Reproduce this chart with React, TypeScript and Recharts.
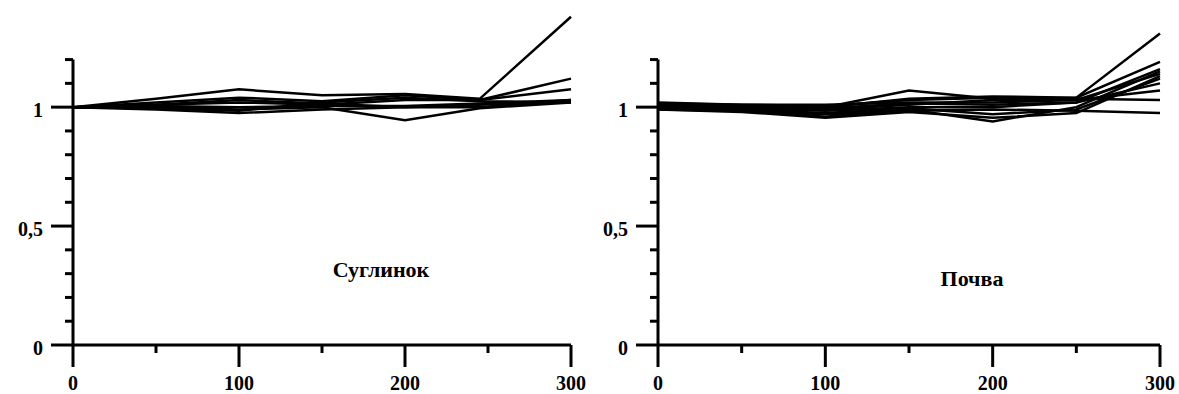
import { Line, LineChart, ReferenceLine, XAxis, YAxis } from "recharts"

// depth points (x) and relative values for each curve
const LOAM_X = [0, 50, 100, 150, 200, 245, 300]
const LOAM_SERIES = [
    [1, 1.035, 1.075, 1.05, 1.055, 1.035, 1.38],
    [1, 1.02, 1.04, 1.025, 1.05, 1.03, 1.12],
    [1, 1.01, 1.02, 1.01, 1.03, 1.03, 1.075],
    [1, 1.0, 0.99, 1.0, 0.945, 0.995, 1.02],
    [1, 0.99, 0.975, 0.99, 1.0, 1.01, 1.025],
    [1, 1.005, 1.0, 1.005, 1.005, 1.015, 1.03],
    [1, 0.995, 0.985, 1.02, 1.04, 1.025, 1.02],
    [1, 1.01, 1.03, 1.015, 1.0, 1.0, 1.03],
]

const SOIL_X = [0, 50, 100, 150, 200, 250, 300]
const SOIL_SERIES = [
    [1.01, 1.005, 1.0, 1.07, 1.035, 1.04, 1.31],
    [1.01, 1.005, 1.0, 1.035, 1.045, 1.04, 1.19],
    [1.0, 0.99, 0.96, 0.99, 0.94, 1.0, 1.15],
    [0.99, 0.98, 0.955, 0.98, 0.955, 0.975, 1.13],
    [1.015, 1.01, 1.01, 1.02, 1.02, 1.03, 1.14],
    [1.0, 0.995, 0.985, 1.0, 1.0, 1.02, 1.1],
    [1.005, 1.0, 0.99, 1.01, 1.03, 1.03, 1.07],
    [0.99, 0.985, 0.97, 0.985, 0.99, 0.985, 0.975],
    [1.02, 1.01, 1.005, 1.03, 1.04, 1.035, 1.03],
    [1.0, 0.99, 0.975, 0.995, 0.97, 0.99, 1.12],
    [1.01, 1.0, 0.995, 1.015, 1.01, 1.02, 1.16],
]

const X_TICKS = [0, 50, 100, 150, 200, 250, 300]
const X_MAJOR = [0, 100, 200, 300]
const Y_TICKS = [0, 0.1, 0.2, 0.3, 0.4, 0.5, 0.6, 0.7, 0.8, 0.9, 1, 1.1, 1.2]
const Y_LABELS: Record<string, string> = { "0": "0", "0.5": "0,5", "1": "1" }

const FONT = "'Liberation Serif', 'Times New Roman', serif"

function buildRows(xs: number[], series: number[][]) {
    return xs.map((x, i) => {
        const row: Record<string, number> = { x }
        series.forEach((s, k) => {
            row[`s${k}`] = s[i]
        })
        return row
    })
}

function XTick(props: any) {
    const { x, y, payload } = props
    const major = X_MAJOR.includes(payload.value)
    return (
        <g>
            <line x1={x} x2={x} y1={y} y2={y + (major ? 22 : 8)} stroke="#000" strokeWidth={3} />
            {major && (
                <text x={x} y={y + 45} textAnchor="middle" fontFamily={FONT} fontWeight="bold" fontSize={20} fill="#000">
                    {payload.value}
                </text>
            )}
        </g>
    )
}

function YTick(props: any) {
    const { x, y, payload } = props
    const key = String(Math.round(payload.value * 10) / 10)
    const label = Y_LABELS[key]
    return (
        <g>
            <line x1={x - (label ? 22 : 8)} x2={x} y1={y} y2={y} stroke="#000" strokeWidth={3} />
            {label && (
                <text x={x - 30} y={y + 10} textAnchor="end" fontFamily={FONT} fontWeight="bold" fontSize={20} fill="#000">
                    {label}
                </text>
            )}
        </g>
    )
}

function Panel({ xs, series, width, marginRight }: { xs: number[]; series: number[][]; width: number; marginRight: number }) {
    const rows = buildRows(xs, series)
    return (
        <LineChart width={width} height={394} data={rows} margin={{ top: 12, right: marginRight, left: 0, bottom: 0 }}>
            <XAxis
                dataKey="x"
                type="number"
                domain={[0, 300]}
                ticks={X_TICKS}
                height={49}
                tickSize={0}
                tickMargin={0}
                tickLine={false}
                axisLine={{ stroke: "#000", strokeWidth: 3 }}
                tick={<XTick />}
                interval={0}
            />
            <YAxis
                type="number"
                domain={[0, 1.4]}
                ticks={Y_TICKS}
                width={73}
                tickSize={0}
                tickMargin={0}
                tickLine={false}
                axisLine={false}
                tick={<YTick />}
                interval={0}
            />
            <ReferenceLine segment={[{ x: 0, y: 0 }, { x: 0, y: 1.2 }]} stroke="#000" strokeWidth={3} />
            {series.map((_, k) => (
                <Line
                    key={k}
                    type="linear"
                    dataKey={`s${k}`}
                    stroke="#000"
                    strokeWidth={2.5}
                    dot={false}
                    isAnimationActive={false}
                />
            ))}
        </LineChart>
    )
}

export default function App() {
    return (
        <div style={{ position: "absolute", left: 0, top: 0, width: 1179, height: 394, background: "#fff", overflow: "hidden" }}>
            <div style={{ position: "absolute", left: 0, top: 0 }}>
                <Panel xs={LOAM_X} series={LOAM_SERIES} width={600} marginRight={29} />
            </div>
            <div style={{ position: "absolute", left: 585, top: 0 }}>
                <Panel xs={SOIL_X} series={SOIL_SERIES} width={594} marginRight={19} />
            </div>
            <div style={{ position: "absolute", left: 281, top: 259, width: 200, textAlign: "center", fontFamily: FONT, fontWeight: "bold", fontSize: 22, lineHeight: 1 }}>
                Суглинок
            </div>
            <div style={{ position: "absolute", left: 872, top: 268, width: 200, textAlign: "center", fontFamily: FONT, fontWeight: "bold", fontSize: 22, lineHeight: 1 }}>
                Почва
            </div>
        </div>
    )
}
